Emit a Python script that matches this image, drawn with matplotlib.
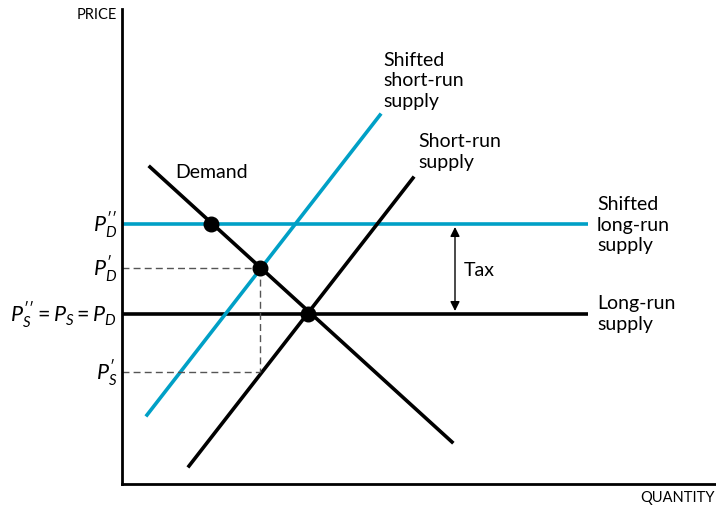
import matplotlib.pyplot as plt

plt.rcParams["font.family"] = ["Lato", "DejaVu Sans"]
plt.rcParams["mathtext.fontset"] = "custom"
plt.rcParams["mathtext.rm"] = "Lato"
plt.rcParams["mathtext.it"] = "Lato:italic"

# ----------------------------------------------------------
# Data (quantity, price) in chart units
# ----------------------------------------------------------

BLUE = "#00a0c6"

demand_q = [28, 330]
demand_p = [317, 42]

sr_supply_q = [67, 291]
sr_supply_p = [18, 306]

shifted_sr_q = [25, 258]
shifted_sr_p = [69, 369]

lr_q = [0, 466]
p_base = 170
p_d2 = 260
p_d1 = 216
p_s1 = 112
q_prime = 138

dots_q = [89, 138, 186]
dots_p = [260, 216, 170]

tax_q = 333

# ----------------------------------------------------------
# Figure
# ----------------------------------------------------------

W, H = 716, 506
fig = plt.figure(figsize=(W / 100, H / 100), dpi=100)
ax = fig.add_axes([122 / W, 21 / H, (715 - 122) / W, (485 - 10) / H])
ax.set_xlim(0, 593)
ax.set_ylim(0, 475)

for side in ["top", "right"]:
    ax.spines[side].set_visible(False)
for side in ["left", "bottom"]:
    ax.spines[side].set_linewidth(2.0)
ax.set_xticks([])
ax.set_yticks([])

# horizontal supply lines
ax.plot(lr_q, [p_base, p_base], color="black", lw=2.6, solid_capstyle="butt")
ax.plot(lr_q, [p_d2, p_d2], color=BLUE, lw=2.6, solid_capstyle="butt")

# sloped curves
ax.plot(demand_q, demand_p, color="black", lw=2.6)
ax.plot(sr_supply_q, sr_supply_p, color="black", lw=2.6)
ax.plot(shifted_sr_q, shifted_sr_p, color=BLUE, lw=2.6)

# dashed guides
dash = dict(color="#555555", lw=1.0, linestyle=(0, (5, 3)))
ax.plot([0, q_prime], [p_d1, p_d1], **dash)
ax.plot([q_prime, q_prime], [p_d1, p_s1], **dash)
ax.plot([0, q_prime], [p_s1, p_s1], **dash)

# equilibrium dots
ax.scatter(dots_q, dots_p, s=110, color="black", zorder=5)

# tax arrow
ax.annotate(
    "",
    xy=(tax_q, p_base + 3),
    xytext=(tax_q, p_d2 - 3),
    arrowprops=dict(arrowstyle="<|-|>", color="black", lw=1.0,
                    mutation_scale=14, shrinkA=0, shrinkB=0),
)
ax.text(tax_q + 9, (p_base + p_d2) / 2, "Tax", fontsize=14,
        ha="left", va="center")

# curve labels
lab = dict(fontsize=14, ha="left", va="center", linespacing=1.25)
ax.text(53, 313, "Demand", **lab)
ax.text(296, 333, "Short-run\nsupply", **lab)
ax.text(261, 404, "Shifted\nshort-run\nsupply", **lab)
ax.text(475, 260, "Shifted\nlong-run\nsupply", **lab)
ax.text(475, 171, "Long-run\nsupply", **lab)

# price labels
plab = dict(fontsize=15.5, ha="right", va="center")
ax.text(-5, p_d2, r"$P_D^{\prime\prime}$", **plab)
ax.text(-5, p_d1, r"$P_D^{\prime}$", **plab)
ax.text(-5, p_base, r"$P_S^{\prime\prime} = P_S = P_D$", **plab)
ax.text(-5, p_s1, r"$P_S^{\prime}$", **plab)

# axis titles
ax.text(-5, 470, "PRICE", fontsize=10.5, ha="right", va="center")
ax.text(593, -13, "QUANTITY", fontsize=10.5, ha="right", va="center")

fig.savefig("out.png", dpi=100)
